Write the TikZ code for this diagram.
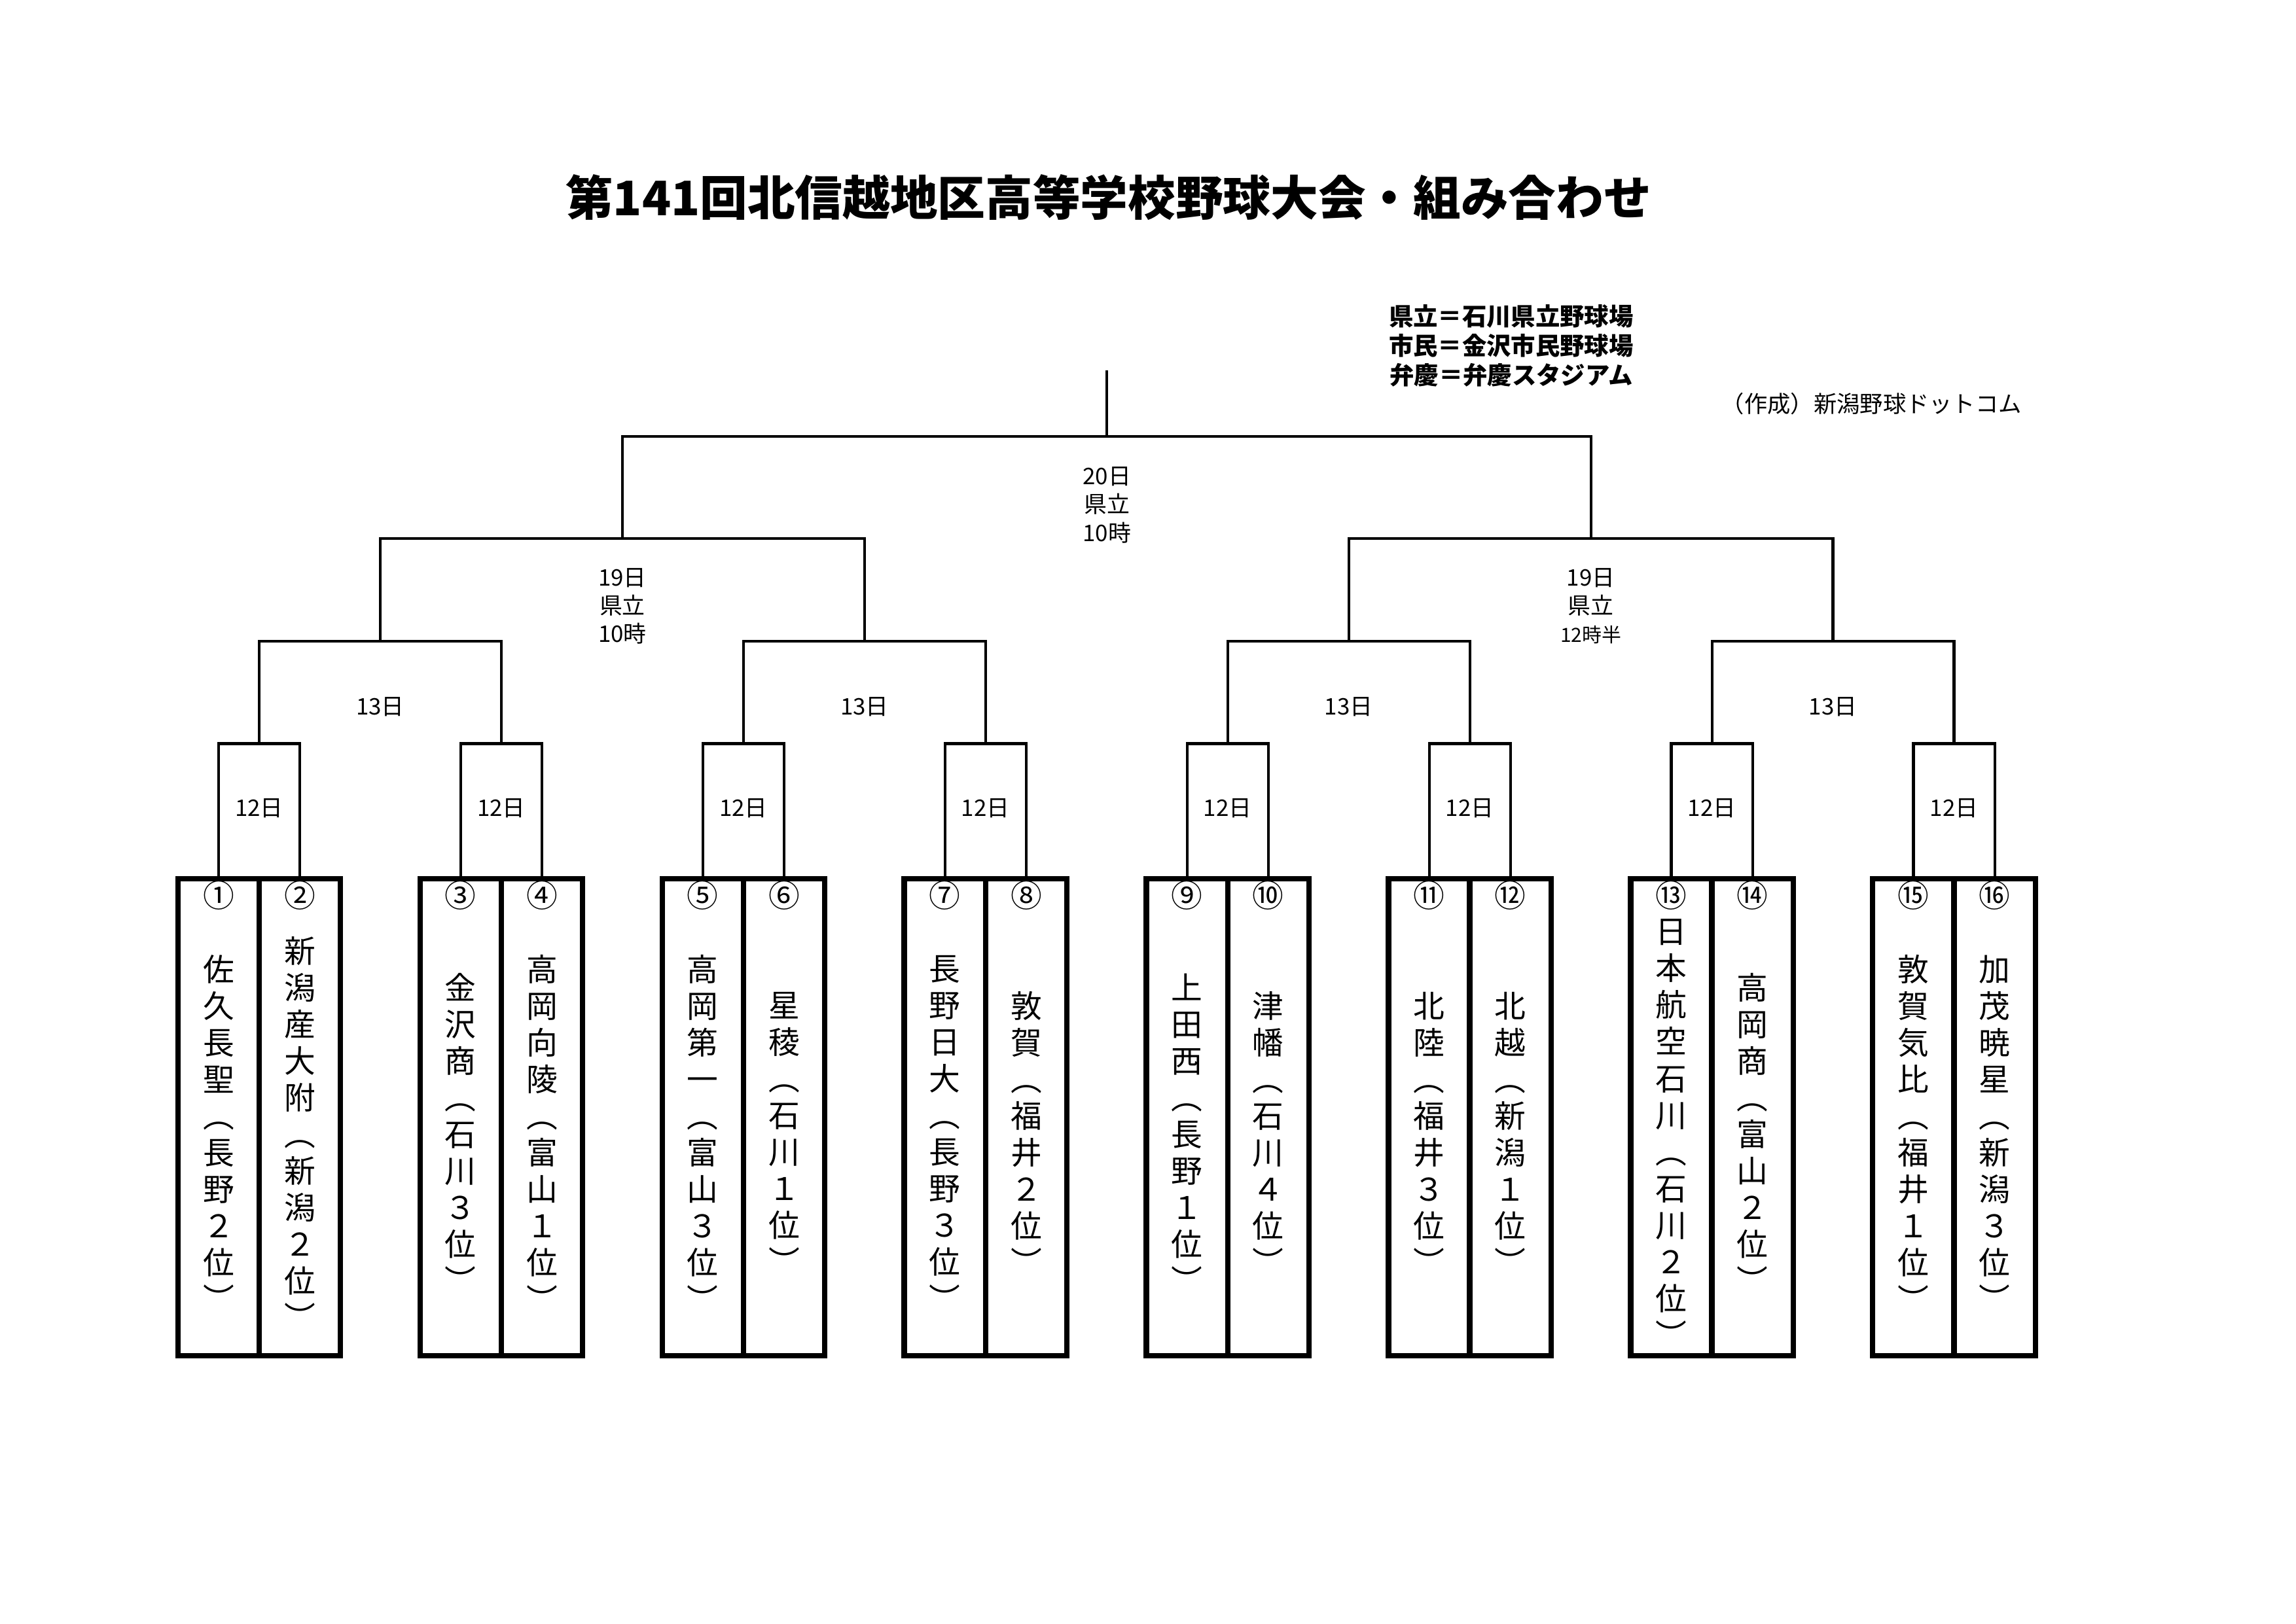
\documentclass[tikz,border=0pt]{standalone}
\usepackage{fontspec}
\setmainfont{Noto Sans CJK JP}
\usetikzlibrary{positioning}

% vertical writing: one character per line
\newcommand\tate[1]{\tatefirst#1\relax}
\def\tatefirst#1{#1\tatenext}
\def\tatenext#1{\ifx\relax#1\else\\#1\expandafter\tatenext\fi}

% one team cell: name, x, number, school
\newcommand\team[4]{%
  \node[cell] (#1) at (#2,763.15) {};
  \node[num, below=0.6pt of #1.north] (#1n) {#3};
  \node[school] (#1s) at (#2,774) {\tate{#4}};
}

\begin{document}
\begin{tikzpicture}[
    x=0.018941cm, y=-0.018941cm,
    line/.style={line width=1pt},
    cell/.style={draw, rectangle, line width=2pt, minimum width=1.0512cm, minimum height=6.169cm, inner sep=0pt, outer sep=0pt},
    num/.style={inner sep=0pt, font=\fontsize{11.5}{13.5}\selectfont},
    school/.style={align=center, inner sep=0pt, font=\fontsize{11.5}{13.5}\selectfont},
    day/.style={align=center, inner sep=0pt, font=\fontsize{8.4}{10.4}\selectfont},
    heading/.style={inner sep=0pt, font=\fontsize{17.5}{20}\selectfont\bfseries},
    venue/.style={align=center, inner sep=0pt, font=\fontsize{9}{10.8}\selectfont\bfseries},
    credit/.style={inner sep=0pt, anchor=east, font=\fontsize{8.5}{10}\selectfont}
  ]
\useasboundingbox (0,0) rectangle (1568,1109);

\node[heading] (title) at (757,135) {第141回北信越地区高等学校野球大会・組み合わせ};
\node[venue] (venues) at (1032,236) {県立＝石川県立野球場\\市民＝金沢市民野球場\\弁慶＝弁慶スタジアム};
\node[credit] (author) at (1381,276) {（作成）新潟野球ドットコム};

% teams
\team{t1}{149.25}{①}{佐久長聖︵長野２位︶}
\team{t2}{204.75}{②}{新潟産大附︵新潟２位︶}
\team{t3}{314.6}{③}{金沢商︵石川３位︶}
\team{t4}{370.1}{④}{高岡向陵︵富山１位︶}
\team{t5}{479.95}{⑤}{高岡第一︵富山３位︶}
\team{t6}{535.45}{⑥}{星稜︵石川１位︶}
\team{t7}{645.3}{⑦}{長野日大︵長野３位︶}
\team{t8}{700.8}{⑧}{敦賀︵福井２位︶}
\team{t9}{810.65}{⑨}{上田西︵長野１位︶}
\team{t10}{866.15}{⑩}{津幡︵石川４位︶}
\team{t11}{976}{⑪}{北陸︵福井３位︶}
\team{t12}{1031.5}{⑫}{北越︵新潟１位︶}
\team{t13}{1141.35}{⑬}{日本航空石川︵石川２位︶}
\team{t14}{1196.85}{⑭}{高岡商︵富山２位︶}
\team{t15}{1306.7}{⑮}{敦賀気比︵福井１位︶}
\team{t16}{1362.2}{⑯}{加茂暁星︵新潟３位︶}

% match points
\coordinate (r1a) at (177,508);
\coordinate (r1b) at (342.35,508);
\coordinate (r1c) at (507.7,508);
\coordinate (r1d) at (673.05,508);
\coordinate (r1e) at (838.4,508);
\coordinate (r1f) at (1003.75,508);
\coordinate (r1g) at (1169.1,508);
\coordinate (r1h) at (1334.45,508);
\coordinate (r2a) at (259.675,438);
\coordinate (r2b) at (590.375,438);
\coordinate (r2c) at (921.075,438);
\coordinate (r2d) at (1251.775,438);
\coordinate (r3a) at (425.025,368);
\coordinate (r3b) at (1086.425,368);
\coordinate (fin) at (755.725,298);
\coordinate (top) at (755.725,253);

% first round
\draw[line] (t1.north) |- (r1a) -| (t2.north);
\draw[line] (t3.north) |- (r1b) -| (t4.north);
\draw[line] (t5.north) |- (r1c) -| (t6.north);
\draw[line] (t7.north) |- (r1d) -| (t8.north);
\draw[line] (t9.north) |- (r1e) -| (t10.north);
\draw[line] (t11.north) |- (r1f) -| (t12.north);
\draw[line] (t13.north) |- (r1g) -| (t14.north);
\draw[line] (t15.north) |- (r1h) -| (t16.north);
% second round
\draw[line] (r1a) |- (r2a) -| (r1b);
\draw[line] (r1c) |- (r2b) -| (r1d);
\draw[line] (r1e) |- (r2c) -| (r1f);
\draw[line] (r1g) |- (r2d) -| (r1h);
% semi finals and final
\draw[line] (r2a) |- (r3a) -| (r2b);
\draw[line] (r2c) |- (r3b) -| (r2d);
\draw[line] (r3a) |- (fin) -| (r3b);
\draw[line] (fin) -- (top);

% dates
\node[day] (d1a) at (177,552) {12日};
\node[day] (d1b) at (342.35,552) {12日};
\node[day] (d1c) at (507.7,552) {12日};
\node[day] (d1d) at (673.05,552) {12日};
\node[day] (d1e) at (838.4,552) {12日};
\node[day] (d1f) at (1003.75,552) {12日};
\node[day] (d1g) at (1169.1,552) {12日};
\node[day] (d1h) at (1334.45,552) {12日};
\node[day] (d2a) at (259.675,483) {13日};
\node[day] (d2b) at (590.375,483) {13日};
\node[day] (d2c) at (921.075,483) {13日};
\node[day] (d2d) at (1251.775,483) {13日};
\node[day] (d3a) at (425.025,414) {19日\\県立\\10時};
\node[day] (d3b) at (1086.425,414) {19日\\県立\\{\fontsize{7.2}{10.4}\selectfont 12時半}};
\node[day] (dfin) at (756,345) {20日\\県立\\10時};

\end{tikzpicture}
\end{document}
